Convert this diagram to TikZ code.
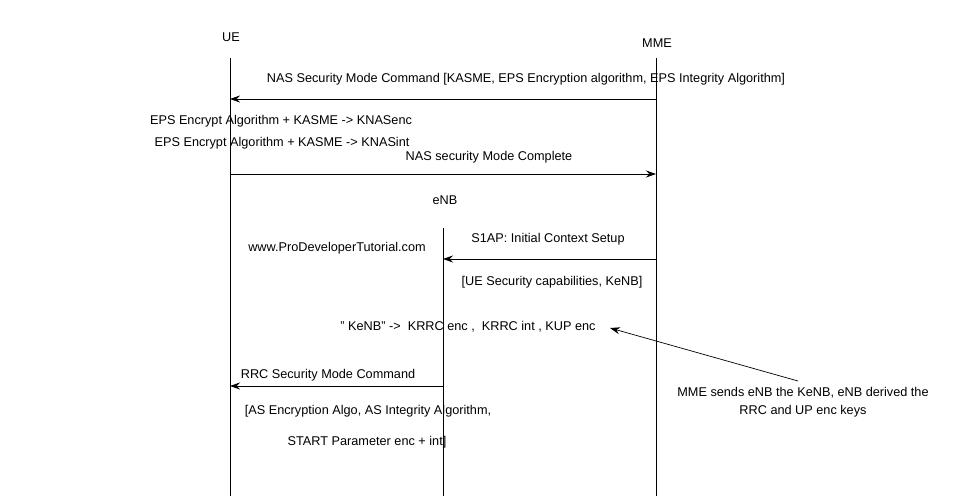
\documentclass[tikz,border=0pt]{standalone}
\usepackage{fontspec}
\setmainfont{Liberation Sans}
\usetikzlibrary{positioning,arrows.meta}
\begin{document}
\begin{tikzpicture}[x=1pt, y=-1pt, >={Stealth[length=10pt,width=7pt]}, line width=0.7pt,
	life/.style={draw=black},
	msg/.style={->},
	txt/.style={font=\fontsize{12.7}{15}\selectfont, inner sep=1pt}]
	\useasboundingbox (0,0) rectangle (970,496);
	
	\node [txt] (ue) at (231,37) {UE};
	\node [txt] (mme) at (657,43) {MME};
	\node [txt] (enb) at (445,200) {eNB};
	
	\coordinate (ueTop) at (230,58);
	\coordinate (ueBot) at (230,496);
	\coordinate (mmeTop) at (656,58);
	\coordinate (mmeBot) at (656,496);
	\coordinate (enbTop) at (443,228);
	\coordinate (enbBot) at (443,496);
	\draw [life] (ueTop) -- (ueBot);
	\draw [life] (mmeTop) -- (mmeBot);
	\draw [life] (enbTop) -- (enbBot);
	
	\coordinate (m1) at (656,99);
	\coordinate (u1) at (230,99);
	\coordinate (u2) at (230,174);
	\coordinate (m2) at (656,174);
	\coordinate (m3) at (656,259);
	\coordinate (e3) at (443,259);
	\coordinate (e4) at (443,386);
	\coordinate (u4) at (230,386);
	
	\draw [msg] (m1) -- (u1);
	\draw [msg] (u2) -- (m2);
	\draw [msg] (m3) -- (e3);
	\draw [msg] (e4) -- (u4);
	
	\node [txt] (cmd) at (526,79) {NAS Security Mode Command [KASME, EPS Encryption algorithm, EPS Integrity Algorithm]};
	\node [txt] (kenc) at (281,121) {EPS Encrypt Algorithm + KASME -> KNASenc};
	\node [txt] (kint) at (282,143) {EPS Encrypt Algorithm + KASME -> KNASint};
	\node [txt] (done) at (489,157) {NAS security Mode Complete};
	\node [txt] (s1ap) at (548,239) {S1AP: Initial Context Setup};
	\node [txt] (caps) at (552,282) {[UE Security capabilities, KeNB]};
	\node [txt] (site) at (337,248) {www.ProDeveloperTutorial.com};
	\node [txt] (keys) at (468,327) {\symbol{34} KeNB\symbol{34} ->\ \ KRRC enc ,\ \ KRRC int , KUP enc};
	\node [txt] (rrc) at (328,375) {RRC Security Mode Command};
	\node [txt] (as1) at (368,411) {[AS Encryption Algo, AS Integrity Algorithm,};
	\node [txt] (as2) at (367,442) {START Parameter enc + int]};
	\node [txt, align=center, font=\fontsize{12.7}{18}\selectfont] (note) at (803,402) {MME sends eNB the KeNB, eNB derived the\\RRC and UP enc keys};
	
	\coordinate (noteEnd) at (798,381);
	\coordinate (keysEnd) at (610,328);
	\draw [msg] (noteEnd) -- (keysEnd);
\end{tikzpicture}
\end{document}
